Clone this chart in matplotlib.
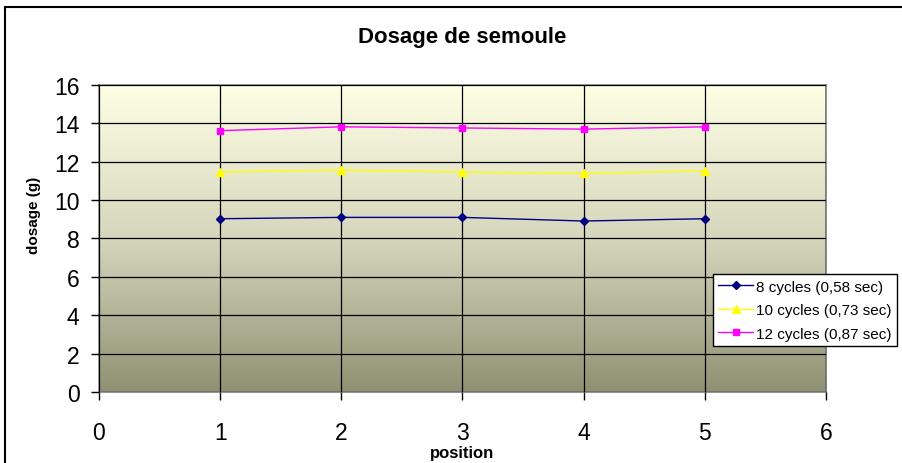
import numpy as np
import matplotlib
matplotlib.use("Agg")
import matplotlib.pyplot as plt
from matplotlib.patches import Rectangle
from matplotlib.colors import LinearSegmentedColormap

plt.rcParams["font.family"] = ["Liberation Sans", "DejaVu Sans"]

positions = [1, 2, 3, 4, 5]
cycles_8 = [9.03, 9.10, 9.10, 8.91, 9.03]
cycles_10 = [11.46, 11.57, 11.46, 11.40, 11.52]
cycles_12 = [13.62, 13.82, 13.76, 13.70, 13.82]
labels = ["8 cycles (0,58 sec)", "10 cycles (0,73 sec)", "12 cycles (0,87 sec)"]

fig = plt.figure(figsize=(9.03, 4.64), dpi=100)
ax = fig.add_axes([0.1096, 0.153, 0.8051, 0.6617])

# gradient background of the plot area (dark olive at bottom -> pale yellow at top)
grad = LinearSegmentedColormap.from_list("bg", ["#909072", "#d6d6bd", "#ffffe6"])
ax.imshow(np.linspace(0, 1, 256).reshape(-1, 1)[::-1], cmap=grad, aspect="auto",
          extent=[0, 1, 0, 1], transform=ax.transAxes, zorder=0)

ax.plot(positions, cycles_8, color="#000080", marker="D", ms=4.5, lw=1, label=labels[0], zorder=3)
ax.plot(positions, cycles_10, color="#ffff00", marker="^", ms=6, lw=1, label=labels[1], zorder=3)
ax.plot(positions, cycles_12, color="#ff00ff", marker="s", ms=5, lw=1, label=labels[2], zorder=3)

ax.set_xlim(0, 6)
ax.set_ylim(0, 16)
ax.set_xticks(range(0, 7))
ax.set_yticks(range(0, 17, 2))
ax.tick_params(labelsize=16.5, direction="out", length=6, width=1, color="black")
ax.tick_params(axis="x", pad=15)
ax.tick_params(axis="y", pad=8)
ax.grid(True, color="black", lw=0.9, zorder=1)
ax.set_axisbelow(False)
for side in ["top", "right", "left", "bottom"]:
    ax.spines[side].set_color("#808080")
    ax.spines[side].set_linewidth(1.2)

ax.set_title("Dosage de semoule", fontsize=16, fontweight="bold", pad=31)
ax.set_xlabel("position", fontsize=12, fontweight="bold")
ax.xaxis.label.set_va("center")
ax.xaxis.set_label_coords(0.5, -0.197)
ax.set_ylabel("dosage (g)", fontsize=11, fontweight="bold")
ax.yaxis.label.set_va("center")
ax.yaxis.set_label_coords(-0.089, 0.577)

leg = ax.legend(loc="upper left", bbox_to_anchor=(0.7893, 0.4067),
                bbox_transform=fig.transFigure, fontsize=11,
                frameon=True, fancybox=False, edgecolor="black", framealpha=1,
                borderpad=0.35, labelspacing=0.62, handlelength=2.3, handletextpad=0.2,
                borderaxespad=0)
leg.get_frame().set_linewidth(1)

# outer chart frame, cropped at right and bottom
fig.patches.append(Rectangle((0.0055, -0.1), 1.1, 0.9828 + 0.1, transform=fig.transFigure,
                             fill=False, edgecolor="black", lw=1.5))

fig.savefig("out.png", dpi=100)
